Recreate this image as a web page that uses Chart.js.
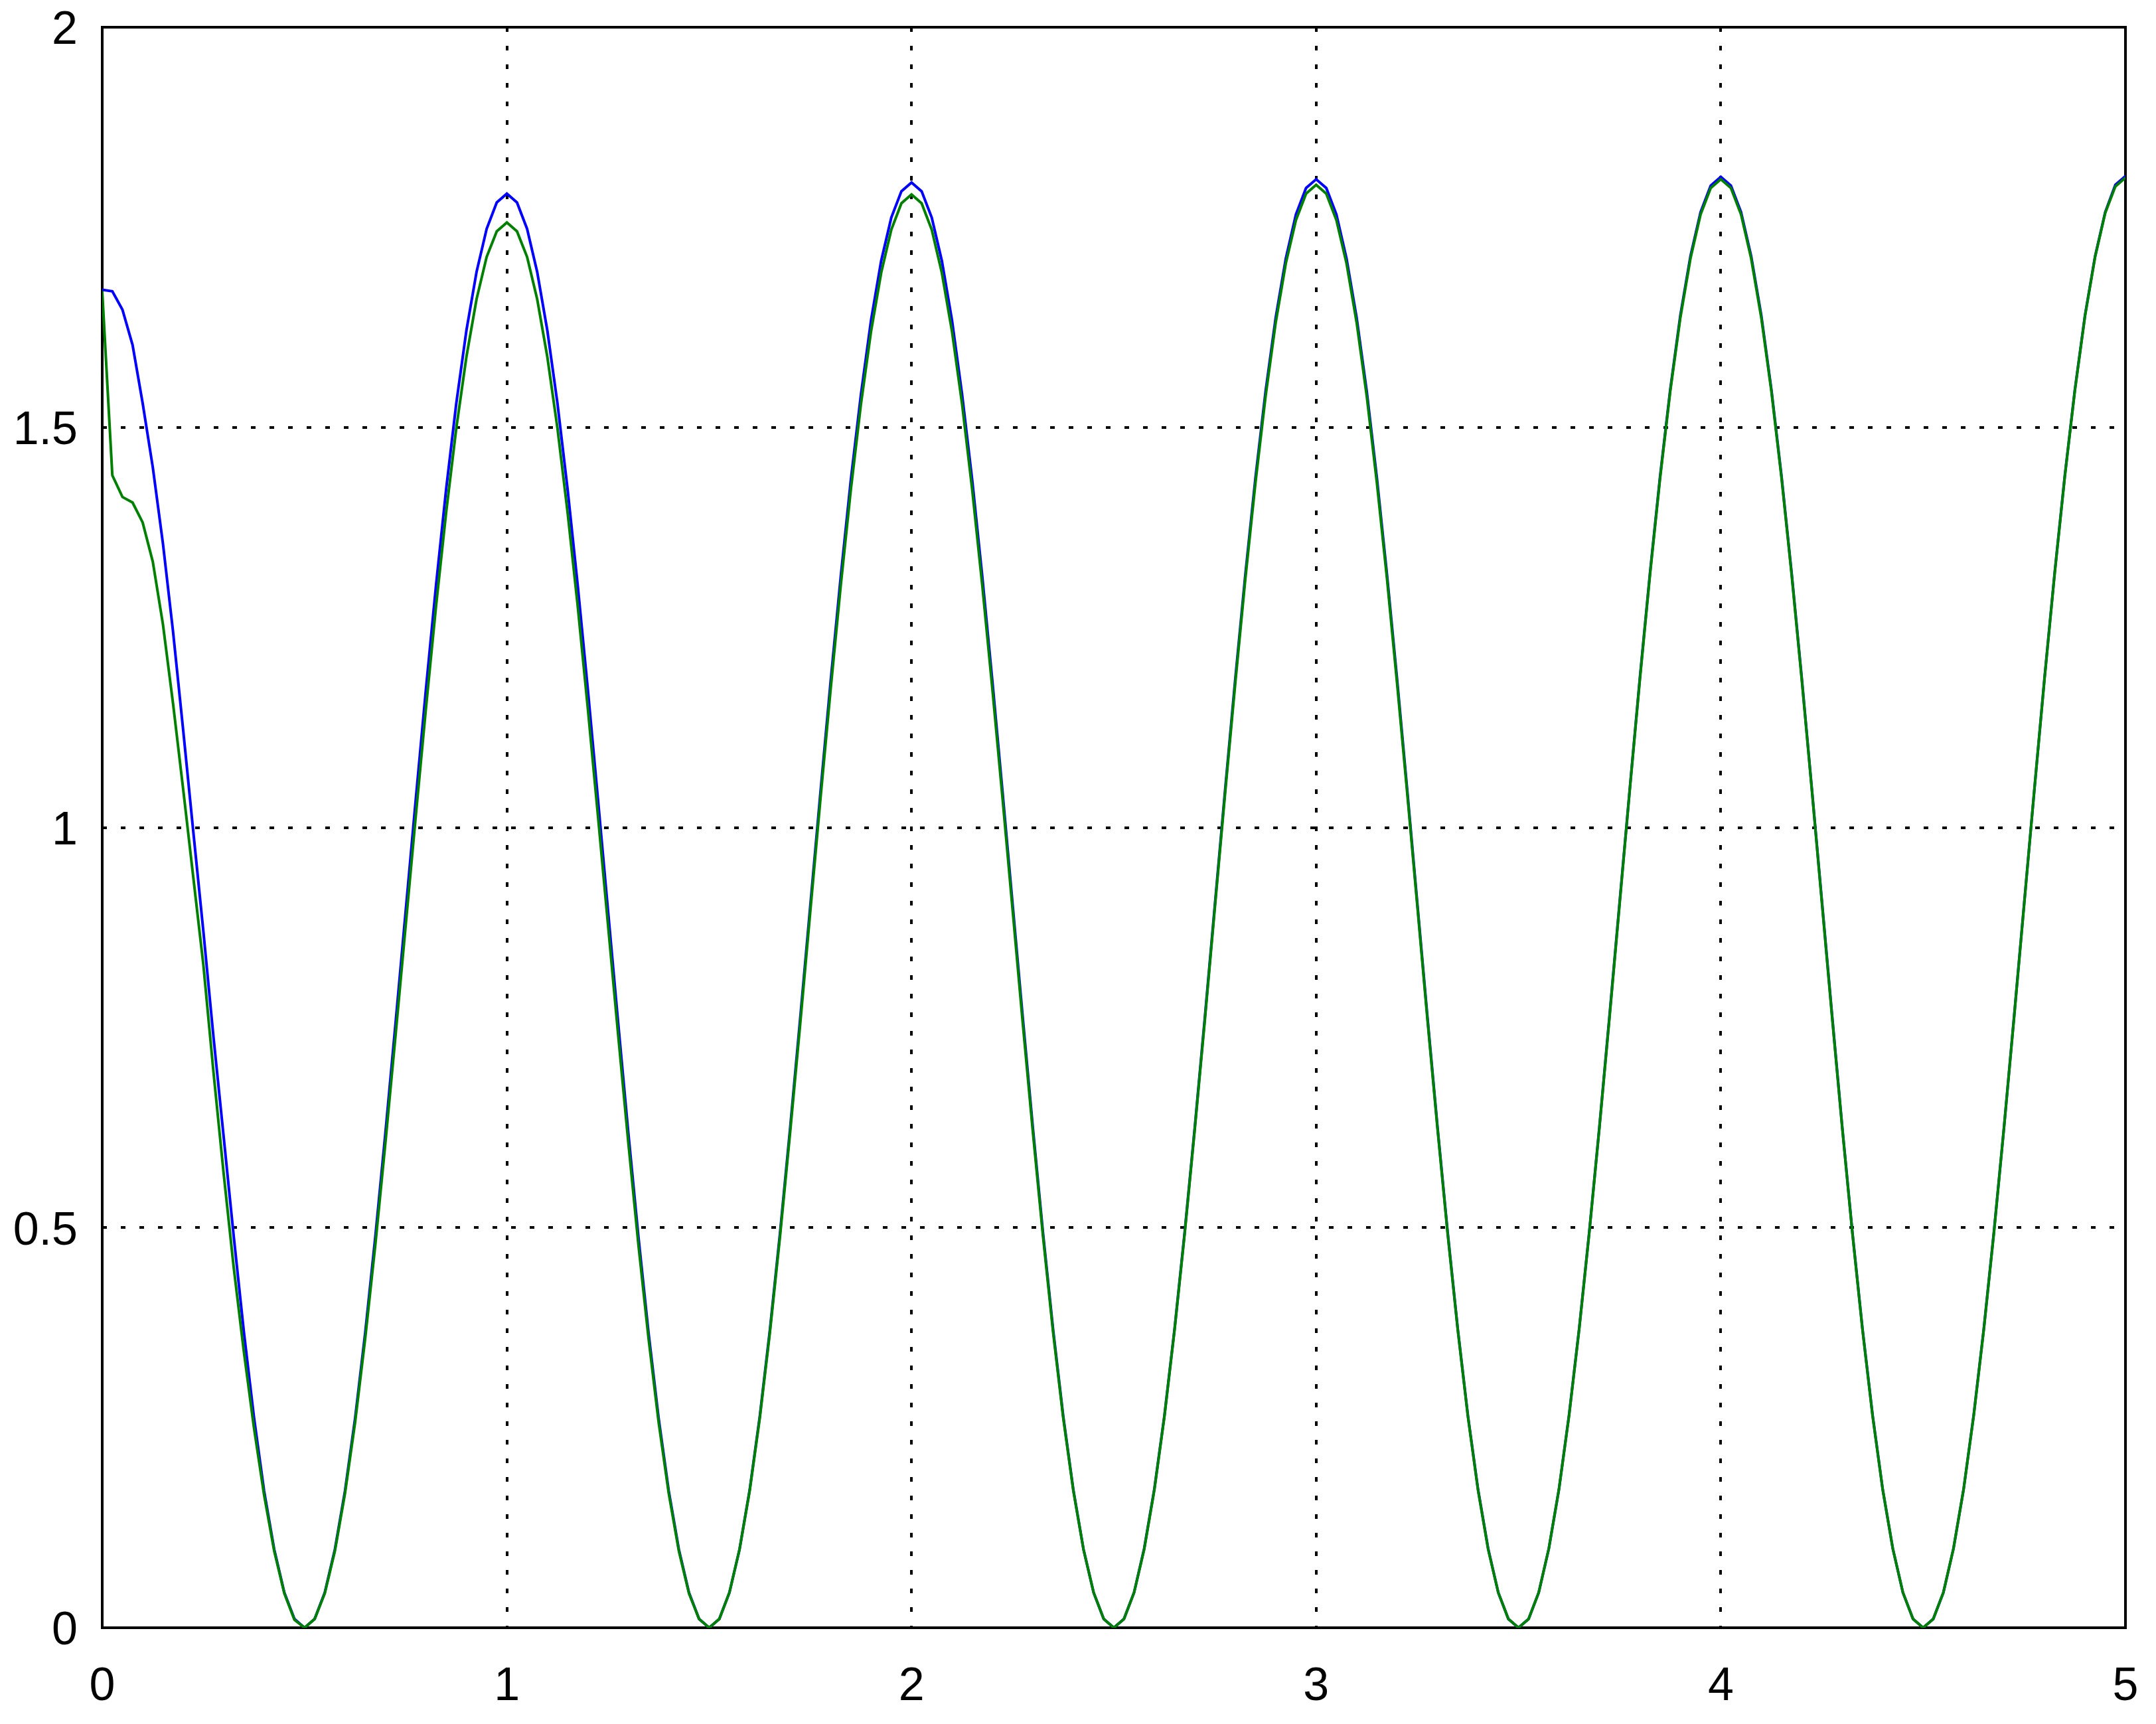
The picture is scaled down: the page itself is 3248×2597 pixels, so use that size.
<!DOCTYPE html>
<html>
<head>
<meta charset="utf-8">
<script src="https://cdn.jsdelivr.net/npm/chart.js@4/dist/chart.umd.min.js"></script>
<style>
html,body{margin:0;padding:0;background:#ffffff;}
canvas{display:block;}
</style>
</head>
<body>
<canvas id="c" width="3248" height="2597"></canvas>
<script>
const xValues = [
0,0.025,0.05,0.075,0.1,0.125,0.15,0.175,0.2,0.225,0.25,0.275,0.3,0.325,0.35,0.375,0.4,0.425,0.45,0.475,
0.5,0.525,0.55,0.575,0.6,0.625,0.65,0.675,0.7,0.725,0.75,0.775,0.8,0.825,0.85,0.875,0.9,0.925,0.95,0.975,
1,1.025,1.05,1.075,1.1,1.125,1.15,1.175,1.2,1.225,1.25,1.275,1.3,1.325,1.35,1.375,1.4,1.425,1.45,1.475,
1.5,1.525,1.55,1.575,1.6,1.625,1.65,1.675,1.7,1.725,1.75,1.775,1.8,1.825,1.85,1.875,1.9,1.925,1.95,1.975,
2,2.025,2.05,2.075,2.1,2.125,2.15,2.175,2.2,2.225,2.25,2.275,2.3,2.325,2.35,2.375,2.4,2.425,2.45,2.475,
2.5,2.525,2.55,2.575,2.6,2.625,2.65,2.675,2.7,2.725,2.75,2.775,2.8,2.825,2.85,2.875,2.9,2.925,2.95,2.975,
3,3.025,3.05,3.075,3.1,3.125,3.15,3.175,3.2,3.225,3.25,3.275,3.3,3.325,3.35,3.375,3.4,3.425,3.45,3.475,
3.5,3.525,3.55,3.575,3.6,3.625,3.65,3.675,3.7,3.725,3.75,3.775,3.8,3.825,3.85,3.875,3.9,3.925,3.95,3.975,
4,4.025,4.05,4.075,4.1,4.125,4.15,4.175,4.2,4.225,4.25,4.275,4.3,4.325,4.35,4.375,4.4,4.425,4.45,4.475,
4.5,4.525,4.55,4.575,4.6,4.625,4.65,4.675,4.7,4.725,4.75,4.775,4.8,4.825,4.85,4.875,4.9,4.925,4.95,4.975,
5
];

const blueValues = [
1.672,1.670,1.647,1.603,1.530,1.450,1.355,1.245,1.122,0.995,0.870,0.738,0.614,0.489,0.370,0.263,0.171,0.098,0.044,0.011,
0,0.011,0.044,0.098,0.171,0.262,0.369,0.489,0.619,0.756,0.896,1.036,1.173,1.303,1.423,1.530,1.621,1.694,1.748,1.781,
1.792,1.781,1.748,1.694,1.621,1.530,1.423,1.303,1.173,1.036,0.896,0.756,0.619,0.489,0.369,0.262,0.171,0.098,0.044,0.011,
0,0.011,0.044,0.098,0.172,0.264,0.372,0.493,0.624,0.762,0.903,1.044,1.182,1.313,1.434,1.541,1.634,1.708,1.762,1.795,
1.806,1.795,1.762,1.708,1.634,1.541,1.434,1.313,1.182,1.044,0.903,0.762,0.624,0.493,0.372,0.264,0.172,0.098,0.044,0.011,
0,0.011,0.044,0.099,0.173,0.265,0.373,0.494,0.625,0.763,0.905,1.047,1.185,1.316,1.437,1.545,1.637,1.711,1.766,1.799,
1.810,1.799,1.766,1.711,1.637,1.545,1.437,1.316,1.185,1.047,0.905,0.763,0.625,0.494,0.373,0.265,0.173,0.099,0.044,0.011,
0,0.011,0.044,0.099,0.173,0.266,0.374,0.495,0.626,0.765,0.907,1.048,1.187,1.318,1.439,1.547,1.640,1.714,1.769,1.802,
1.813,1.802,1.769,1.714,1.640,1.547,1.439,1.318,1.187,1.048,0.907,0.765,0.626,0.495,0.374,0.266,0.173,0.099,0.044,0.011,
0,0.011,0.044,0.099,0.173,0.266,0.374,0.495,0.626,0.765,0.907,1.048,1.187,1.318,1.439,1.547,1.640,1.714,1.769,1.803,
1.814
];

const greenValues = [
1.670,1.440,1.413,1.406,1.381,1.332,1.254,1.155,1.048,0.938,0.828,0.694,0.568,0.450,0.345,0.250,0.166,0.096,0.043,0.010,
0,0.011,0.043,0.096,0.168,0.257,0.362,0.479,0.607,0.741,0.878,1.015,1.149,1.277,1.394,1.499,1.588,1.660,1.713,1.745,
1.756,1.745,1.713,1.660,1.588,1.499,1.394,1.277,1.149,1.015,0.878,0.741,0.607,0.479,0.362,0.257,0.168,0.096,0.043,0.011,
0,0.011,0.044,0.098,0.171,0.262,0.369,0.489,0.619,0.755,0.896,1.036,1.172,1.302,1.422,1.529,1.620,1.693,1.747,1.780,
1.791,1.780,1.747,1.693,1.620,1.529,1.422,1.302,1.172,1.036,0.896,0.755,0.619,0.489,0.369,0.262,0.171,0.098,0.044,0.011,
0,0.011,0.044,0.098,0.172,0.264,0.372,0.492,0.623,0.760,0.902,1.043,1.180,1.311,1.431,1.539,1.631,1.705,1.759,1.792,
1.803,1.792,1.759,1.705,1.631,1.539,1.431,1.311,1.180,1.043,0.902,0.760,0.623,0.492,0.372,0.264,0.172,0.098,0.044,0.011,
0,0.011,0.044,0.099,0.173,0.265,0.373,0.494,0.625,0.763,0.905,1.047,1.185,1.316,1.437,1.545,1.637,1.711,1.766,1.799,
1.810,1.799,1.766,1.711,1.637,1.545,1.437,1.316,1.185,1.047,0.905,0.763,0.625,0.494,0.373,0.265,0.173,0.099,0.044,0.011,
0,0.011,0.044,0.099,0.173,0.265,0.373,0.494,0.626,0.764,0.906,1.048,1.186,1.317,1.438,1.546,1.639,1.713,1.768,1.801,
1.812
];

const xAxisRange = [0, 5];
const yAxisRange = [0, 2];
const xTickStep = 1;
const yTickStep = 0.5;

const FONT = {family: "'Liberation Sans', Arial, Helvetica, sans-serif", size: 70};

const boxPlugin = {
  id: 'box',
  beforeDatasetsDraw(chart) {
    const {ctx, chartArea: a} = chart;
    ctx.save();
    ctx.strokeStyle = '#000000';
    ctx.lineWidth = 4;
    ctx.setLineDash([]);
    ctx.strokeRect(a.left, a.top, a.right - a.left, a.bottom - a.top);
    ctx.restore();
  }
};

function plainLabel(v) { return String(v); }

new Chart(document.getElementById('c'), {
  type: 'line',
  data: {
    labels: xValues,
    datasets: [
      {label: 'blue', data: blueValues, borderColor: '#0000ff', borderWidth: 4, pointRadius: 0, tension: 0, fill: false, order: 2},
      {label: 'green', data: greenValues, borderColor: '#008000', borderWidth: 4, pointRadius: 0, tension: 0, fill: false, order: 1}
    ]
  },
  options: {
    responsive: false,
    animation: false,
    devicePixelRatio: 1,
    layout: {padding: {top: 41, right: 46, left: 0, bottom: 0}},
    plugins: {legend: {display: false}, tooltip: {enabled: false}},
    scales: {
      x: {
        type: 'linear',
        min: xAxisRange[0], max: xAxisRange[1],
        ticks: {stepSize: xTickStep, color: '#000000', font: FONT, padding: 48, maxRotation: 0, callback: plainLabel},
        grid: {color: '#000000', lineWidth: 4, drawTicks: false},
        border: {display: false, dash: [7, 21]},
        afterFit(s) { s.height = 145; s.paddingLeft = 0; s.paddingRight = 0; }
      },
      y: {
        type: 'linear',
        min: yAxisRange[0], max: yAxisRange[1],
        ticks: {stepSize: yTickStep, color: '#000000', font: FONT, padding: 37, labelOffset: 6, callback: plainLabel},
        grid: {color: '#000000', lineWidth: 4, drawTicks: false},
        border: {display: false, dash: [7, 21]},
        afterFit(s) { s.width = 154; s.paddingTop = 0; s.paddingBottom = 0; }
      }
    }
  },
  plugins: [boxPlugin]
});
</script>
</body>
</html>
